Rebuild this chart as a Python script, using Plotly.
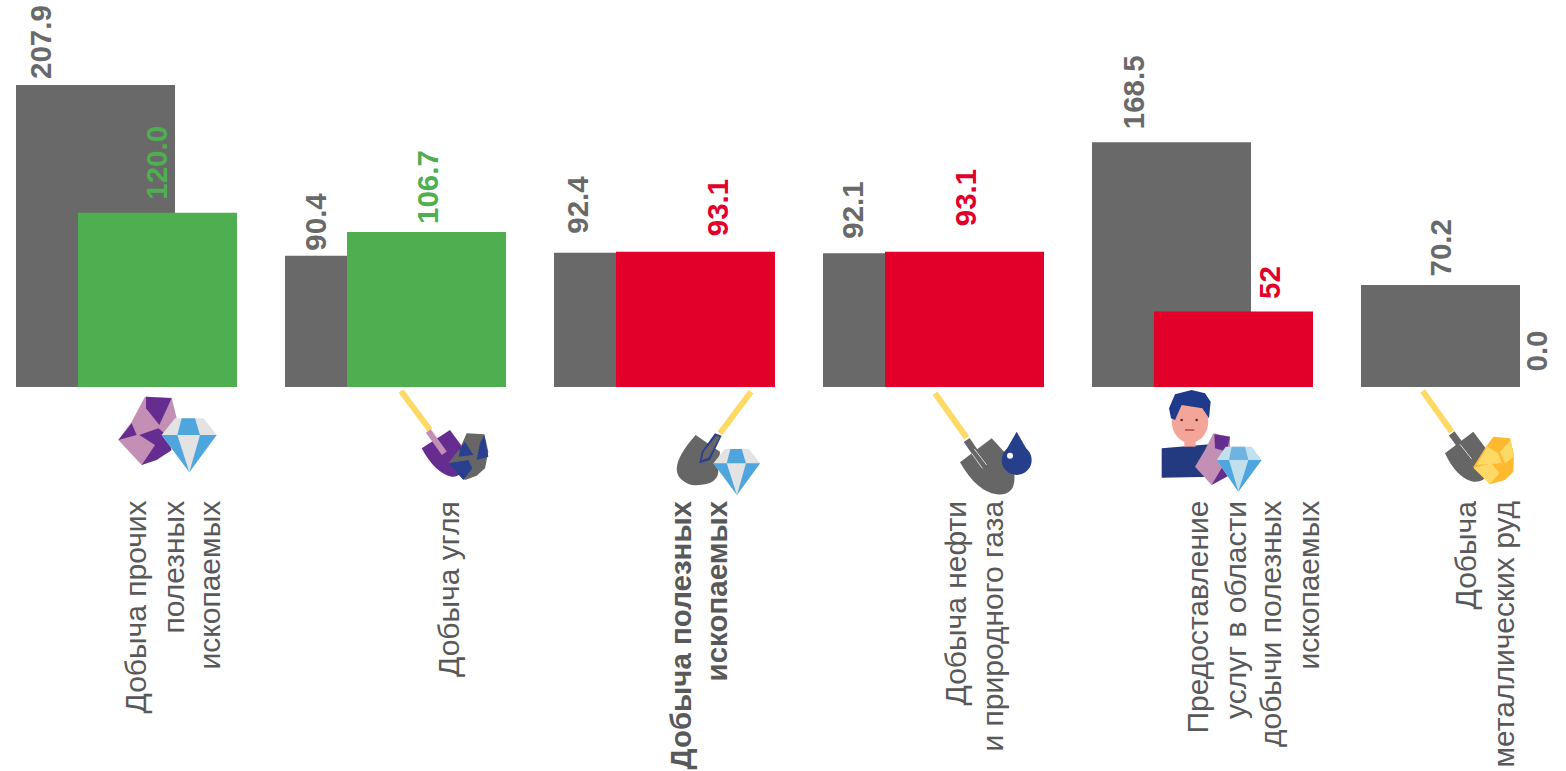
import plotly.graph_objects as go

categories = ["Добыча прочих полезных ископаемых", "Добыча угля", "Добыча полезных ископаемых",
              "Добыча нефти и природного газа", "Предоставление услуг в области добычи полезных ископаемых",
              "Добыча металлических руд"]
previous_values = [207.9, 90.4, 92.4, 92.1, 168.5, 70.2]
current_values = [120.0, 106.7, 93.1, 93.1, 52, 0.0]
current_labels = ["120.0", "106.7", "93.1", "93.1", "52", "0.0"]
previous_labels = ["207.9", "90.4", "92.4", "92.1", "168.5", "70.2"]
category_lines = [
    ["Добыча прочих", "полезных", "ископаемых"],
    ["Добыча угля"],
    ["<b>Добыча полезных</b>", "<b>ископаемых</b>"],
    ["Добыча нефти", "и природного газа"],
    ["Предоставление", "услуг в области", "добычи полезных", "ископаемых"],
    ["Добыча", "металлических руд"],
]

GREY, GREEN, RED = "#696969", "#4FAF50", "#E2002B"
current_colors = [GREEN, GREEN, RED, RED, RED, RED]
W, H = 1566, 771
STEP, GREY_LEFT, BAR_W, OFFSET = 269.0, 16.0, 159.0, 62.0
BASE_PX, PX_PER_UNIT = 387.0, 302.0 / 207.9

center0 = GREY_LEFT + BAR_W / 2
bw = BAR_W / STEP
idx = list(range(len(categories)))

fig = go.Figure()
fig.add_bar(x=idx, y=previous_values, width=bw, marker=dict(color=GREY, line_width=0), hoverinfo="skip")
fig.add_bar(x=idx, y=current_values, width=bw, offset=-bw / 2 + OFFSET / STEP,
            marker=dict(color=current_colors, line_width=0), hoverinfo="skip")

annos = []
prev_label_px = [40, 316, 578, 853, 1133, 1441]
prev_gap = [5, 4, 18, 13, 12, 7]
cur_label_px = [157, 427, 717, 965, 1270, 1536]
cur_gap = [12, 7, 14, 24, 11, 14]


def value_label(i, val, text, color, px, gap):
    annos.append(dict(x=i, y=val, xref="x", yref="y", text=f"<b>{text}</b>", showarrow=False,
                      textangle=-90, xanchor="center", yanchor="bottom",
                      xshift=px - (center0 + STEP * i), yshift=gap, borderpad=0,
                      font=dict(family="Liberation Sans", size=29.5, color=color)))


for i in idx:
    value_label(i, previous_values[i], previous_labels[i], GREY, prev_label_px[i], prev_gap[i])
    value_label(i, current_values[i], current_labels[i],
                GREY if i == 5 else current_colors[i], cur_label_px[i], cur_gap[i])

line_px = [[135, 173, 209], [448], [680, 716], [955, 992], [1197, 1235, 1270, 1308], [1465, 1503]]
label_sizes = [30, 30, 29.5, 30, 30, 30]
for i, lines in enumerate(category_lines):
    for t, px in zip(lines, line_px[i]):
        annos.append(dict(x=i, y=1 - 500 / H, xref="x", yref="paper", text=t, showarrow=False,
                          textangle=-90, xanchor="center", yanchor="top", borderpad=0,
                          xshift=px - (center0 + STEP * i),
                          font=dict(family="Liberation Sans", size=label_sizes[i], color="#595959")))

# ---- decorative pictograms (page pixels) ----
shapes = []
PURPLE, PINK, GMID, NAVY, YEL, AMB, LBLUE, LGREY = ("#662D91", "#C48FB5", "#666666", "#2A3F8F",
                                                   "#FFD966", "#FFB92E", "#4FA6DE", "#E3E3E3")


def pt(ox, oy, p):
    return f"{(ox + p[0] / 3) / W:.5f},{1 - (oy + p[1] / 3) / H:.5f}"


def P(ox, oy, pts, fill):
    d = "M" + "L".join(pt(ox, oy, p) for p in pts) + "Z"
    shapes.append(dict(type="path", xref="paper", yref="paper", path=d, fillcolor=fill, line_width=0, layer="above"))


def L(ox, oy, a, b, color, w):
    d = f"M{pt(ox, oy, a)}L{pt(ox, oy, b)}"
    shapes.append(dict(type="path", xref="paper", yref="paper", path=d, line=dict(color=color, width=w), layer="above"))


def C(ox, oy, cx, cy, rx, ry, fill):
    shapes.append(dict(type="circle", xref="paper", yref="paper", x0=(ox + (cx - rx) / 3) / W, x1=(ox + (cx + rx) / 3) / W,
                       y0=1 - (oy + (cy + ry) / 3) / H, y1=1 - (oy + (cy - ry) / 3) / H,
                       fillcolor=fill, line_width=0, layer="above"))


def blade(ox, oy, a, b, c, q1, e1, q2, fill):
    """Shovel blade: straight shoulders a-b-c, then two curves back to a."""
    d = (f"M{pt(ox, oy, a)}L{pt(ox, oy, b)}L{pt(ox, oy, c)}Q{pt(ox, oy, q1)} {pt(ox, oy, e1)}"
         f"Q{pt(ox, oy, q2)} {pt(ox, oy, a)}Z")
    shapes.append(dict(type="path", xref="paper", yref="paper", path=d, fillcolor=fill, line_width=0, layer="above"))


def diamond(ox, oy, s=1.0):
    f = lambda pts: [(x * s, y * s) for x, y in pts]
    P(ox, oy, f([(185, 150), (225, 100), (310, 100), (350, 150), (268, 262)]), LGREY)
    P(ox, oy, f([(245, 100), (285, 100), (300, 150), (232, 150)]), LBLUE)
    P(ox, oy, f([(185, 150), (232, 150), (268, 262)]), LBLUE)
    P(ox, oy, f([(300, 150), (350, 150), (268, 262)]), LBLUE)


# icon 1
o = (100, 385)
P(*o, [(135, 35), (215, 38), (230, 100), (210, 200), (125, 240), (55, 165), (95, 110)], PINK)
P(*o, [(138, 35), (215, 40), (178, 120), (138, 70)], PURPLE)
P(*o, [(95, 115), (110, 150), (55, 165)], PURPLE)
P(*o, [(118, 150), (175, 130), (200, 150), (215, 195), (170, 225), (125, 240), (165, 180)], PURPLE)
diamond(*o)

# icon 2
o = (385, 385)
L(*o, (48, 18), (135, 135), YEL, 6)
blade(*o, (110, 190), (195, 135), (235, 190), (245, 280), (200, 275), (150, 265), PURPLE)
L(*o, (130, 138), (178, 205), PINK, 6)
P(*o, [(245, 145), (298, 148), (310, 200), (300, 250), (275, 272), (240, 285), (190, 235), (225, 190)], GMID)
P(*o, [(298, 150), (310, 215), (275, 225), (285, 175)], NAVY)
P(*o, [(240, 170), (265, 210), (222, 215), (225, 190)], NAVY)
P(*o, [(190, 235), (250, 225), (262, 250), (235, 285)], NAVY)

# icon 3
o = (665, 385)
L(*o, (258, 20), (165, 145), YEL, 6)
blade(*o, (92, 150), (165, 200), (160, 250), (165, 305), (80, 300), (-15, 270), GMID)
P(*o, [(150, 145), (170, 152), (135, 225), (103, 235), (110, 200)], NAVY)
P(*o, [(154, 152), (164, 156), (131, 218), (110, 226), (116, 200)], GMID)
diamond(o[0] - 4, o[1] + 35.7, 0.85)

# icon 4
o = (925, 385)
L(*o, (30, 25), (125, 158), YEL, 6)
blade(*o, (105, 232), (200, 160), (260, 225), (290, 335), (215, 328), (155, 320), GMID)
L(*o, (125, 165), (180, 245), GMID, 7)
L(*o, (148, 192), (185, 240), "#D8D8D8", 1)
L(*o, (140, 205), (172, 250), "#D8D8D8", 1)
P(*o, [(275, 140), (318, 215), (232, 215)], "#253F8A")
C(*o, 275, 225, 45, 45, "#253F8A")
C(*o, 255, 212, 9, 9, "#FFFFFF")

# icon 5
o = (1155, 385)
P(*o, [(20, 190), (165, 178), (170, 275), (20, 278)], "#233A80")
P(*o, [(88, 150), (122, 150), (122, 185), (88, 185)], "#F4A59A")
C(*o, 105, 108, 55, 66, "#F4A59A")
P(*o, [(42, 70), (60, 28), (110, 15), (150, 25), (167, 50), (162, 100), (142, 70), (80, 60), (60, 105), (48, 100)], "#1F3A8A")
C(*o, 80, 105, 4, 4, "#5A2A2A")
C(*o, 125, 105, 4, 4, "#5A2A2A")
L(*o, (90, 135), (118, 135), "#B5453F", 1.5)
P(*o, [(150, 195), (175, 145), (225, 155), (225, 260), (170, 300), (120, 245)], PINK)
P(*o, [(178, 148), (225, 155), (215, 200), (180, 190)], PURPLE)
P(*o, [(170, 300), (205, 240), (225, 270)], PURPLE)
P(*o, [(185, 225), (212, 185), (290, 185), (320, 225), (250, 320)], "#BFE0EC")
P(*o, [(230, 185), (270, 185), (280, 225), (222, 225)], "#6FB4E0")
P(*o, [(185, 225), (222, 225), (250, 320)], "#4FA6DE")
P(*o, [(280, 225), (320, 225), (250, 320)], "#4FA6DE")

# icon 6
o = (1410, 385)
L(*o, (38, 18), (125, 140), YEL, 6)
blade(*o, (105, 205), (190, 140), (235, 200), (250, 295), (190, 290), (140, 280), GMID)
L(*o, (125, 145), (180, 220), GMID, 7)
L(*o, (150, 178), (185, 222), "#D8D8D8", 1)
P(*o, [(250, 155), (300, 160), (312, 210), (310, 260), (285, 285), (240, 298), (190, 245), (225, 190)], AMB)
P(*o, [(302, 165), (312, 215), (285, 235), (270, 200)], YEL)
P(*o, [(232, 185), (265, 205), (275, 235), (200, 240)], YEL)
P(*o, [(190, 248), (245, 235), (268, 265), (240, 298)], YEL)

fig.update_layout(
    width=W, height=H, margin=dict(l=0, r=0, t=0, b=0), barmode="overlay", showlegend=False,
    paper_bgcolor="white", plot_bgcolor="white", annotations=annos, shapes=shapes,
    xaxis=dict(visible=False, range=[-center0 / STEP, (W - center0) / STEP], fixedrange=True),
    yaxis=dict(visible=False, range=[-(H - BASE_PX) / PX_PER_UNIT, BASE_PX / PX_PER_UNIT], fixedrange=True),
)
fig.write_html("out.html", config={"displayModeBar": False},
               post_script="document.body.style.margin='0';document.body.style.overflow='hidden';")
